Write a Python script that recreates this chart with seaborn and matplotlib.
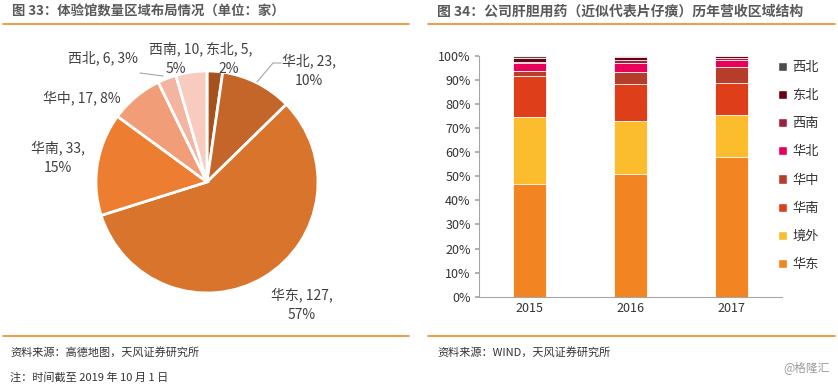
import numpy as np
import pandas as pd
import matplotlib
matplotlib.use('Agg')
import matplotlib.pyplot as plt
import seaborn as sns
from matplotlib.lines import Line2D
from matplotlib.patches import Patch

sns.set_theme(style='white')
plt.rcParams['font.family'] = ['Noto Sans CJK SC', 'DejaVu Sans']

# 图33 数据
pie_regions = ['东北', '华北', '华东', '华南', '华中', '西北', '西南']
pie_values = [5, 23, 127, 33, 17, 6, 10]
pie_pct = ['2%', '10%', '57%', '15%', '8%', '3%', '5%']
pie_colors = ['#A5521F', '#C4652A', '#D9742D', '#ED7D31', '#F19E78', '#F4B5A0', '#F8CBBE']

# 图34 数据（%）
years = ['2015', '2016', '2017']
regions = ['华东', '境外', '华南', '华中', '华北', '西南', '东北', '西北']
share = {
    '华东': [47.0, 51.0, 58.2],
    '境外': [27.7, 22.0, 17.4],
    '华南': [17.1, 15.4, 13.0],
    '华中': [2.1, 5.0, 6.7],
    '华北': [3.0, 3.6, 2.9],
    '西南': [0.6, 1.3, 0.8],
    '东北': [1.6, 1.4, 0.8],
    '西北': [0.9, 0.3, 0.2],
}
bar_colors = {
    '华东': '#F28522', '境外': '#FBBD2E', '华南': '#DE3E1A', '华中': '#B63D2B',
    '华北': '#E8005A', '西南': '#A11E3E', '东北': '#6B0012', '西北': '#4D4D4D',
}

W, H = 838, 386
fig = plt.figure(figsize=(W / 100, H / 100), dpi=100)

def px(x, y):
    return x / W, 1 - y / H

orange = '#F08A24'
title_c = '#595959'
# 标题和分隔线
fig.text(*px(12, 12), '图 33：体验馆数量区域布局情况（单位：家）', fontsize=9.6, fontweight='bold',
         color=title_c, va='center', ha='left')
fig.text(*px(437, 12), '图 34：公司肝胆用药（近似代表片仔癀）历年营收区域结构', fontsize=10, fontweight='bold',
         color=title_c, va='center', ha='left')
for x0, x1 in [(3, 409), (428, 835)]:
    for yy in [24, 336]:
        fig.add_artist(Line2D([x0 / W, x1 / W], [1 - yy / H] * 2, color=orange, lw=1.2))
fig.text(*px(10, 352), '资料来源：高德地图，天风证券研究所', fontsize=8, color='#333333', va='center')
fig.text(*px(10, 377), '注：时间截至 2019 年 10 月 1 日', fontsize=8, color='#333333', va='center')
fig.text(*px(437, 352), '资料来源：WIND，天风证券研究所', fontsize=8, color='#333333', va='center')
fig.text(*px(830, 368), '@格隆汇', fontsize=8.5, color='#9A9A9A', va='center', ha='right')

# 饼图
cx, cy, r = 207, 182, 111
half = 150
ax1 = fig.add_axes([(cx - half) / W, (H - cy - half) / H, 2 * half / W, 2 * half / H])
ax1.pie(pie_values, colors=pie_colors, startangle=90, counterclock=False, radius=1,
        wedgeprops=dict(edgecolor='white', linewidth=2))
ax1.set_xlim(-half / r, half / r)
ax1.set_ylim(-half / r, half / r)
ax1.set_aspect('equal')
ax1.axis('off')

def d(x, y):
    return (x - cx) / r, (cy - y) / r

label_pos = {
    '东北': (229, 59), '华北': (309, 71), '华东': (302, 305), '华南': (58, 158),
    '华中': (82, 98), '西北': (103, 58), '西南': (176, 59),
}
two_line = {'东北', '华北', '华东', '华南', '西南'}
for reg, v, p in zip(pie_regions, pie_values, pie_pct):
    sep = ',\n' if reg in two_line else ', '
    ax1.text(*d(*label_pos[reg]), f'{reg}, {v}{sep}{p}', fontsize=10, color='#404040',
             ha='center', va='center', linespacing=1.5)
ax1.plot(*zip(d(257, 82), d(273, 63), d(281, 63)), color='#A6A6A6', lw=0.8)
ax1.plot(*zip(d(140, 73), d(163, 76)), color='#A6A6A6', lw=0.8)

# 堆积柱状图
ax2 = fig.add_axes([479 / W, (H - 296.7) / H, (782 - 479) / W, (296.7 - 56) / H])
df = pd.DataFrame(share, index=years)
cum = df[regions].cumsum(axis=1)
for reg in reversed(regions):
    sns.barplot(x=years, y=cum[reg].values, color=bar_colors[reg], width=0.33,
                edgecolor='white', linewidth=0.6, saturation=1, ax=ax2)
ax2.set_xlim(-0.5, 2.5)
ax2.set_ylim(0, 100)
ax2.set_yticks(np.arange(0, 101, 10))
ax2.set_yticklabels([f'{t}%' for t in range(0, 101, 10)], fontsize=9, color='#333333')
ax2.set_xticks(range(3))
ax2.set_xticklabels(years, fontsize=9, color='#333333')
ax2.set_xticks([0.5, 1.5], minor=True)
ax2.tick_params(axis='x', which='major', length=0, pad=4)
ax2.tick_params(axis='x', which='minor', length=3, direction='in', color='#A6A6A6')
ax2.tick_params(axis='y', length=3, color='#A6A6A6', pad=3, direction='out', left=True)
for s in ['top', 'right']:
    ax2.spines[s].set_visible(False)
for s in ['left', 'bottom']:
    ax2.spines[s].set_color('#A6A6A6')
    ax2.spines[s].set_linewidth(0.8)
ax2.grid(False)

handles = [Patch(facecolor=bar_colors[reg], label=reg) for reg in reversed(regions)]
fig.legend(handles=handles, loc='upper left', bbox_to_anchor=(766 / W, 1 - 49 / H),
           frameon=False, fontsize=9.5, handlelength=0.7, handleheight=0.7,
           handletextpad=0.4, labelspacing=1.15, labelcolor='#333333')

fig.savefig('out.png', dpi=100)
